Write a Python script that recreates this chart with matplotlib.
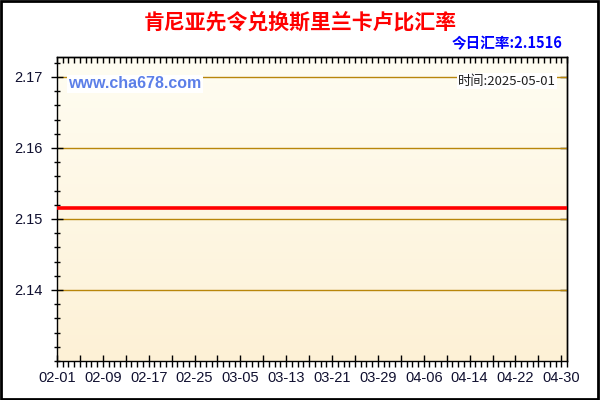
import numpy as np
import pandas as pd
import matplotlib
matplotlib.use("Agg")
import matplotlib.pyplot as plt
from matplotlib.patches import Rectangle

plt.rcParams['font.family'] = ['Liberation Sans', 'Noto Sans CJK SC', 'DejaVu Sans']

# ── data ────────────────────────────────────────────────────────────────
dates = pd.date_range('2025-02-01', '2025-05-01', freq='D')
rates = [2.1516] * len(dates)
today_rate = 2.1516
stamp = '2025-05-01'
y_ticks = [2.14, 2.15, 2.16, 2.17]

title_txt = '肯尼亚先令兑换斯里兰卡卢比汇率'
site_txt = 'www.cha678.com'

GRID = '#B8860B'
CJK = ['Noto Sans CJK SC', 'DejaVu Sans']

fig = plt.figure(figsize=(6, 4), dpi=100, facecolor='white')
ax = fig.add_axes([57 / 600, 1 - 361 / 400, 510 / 600, 304 / 400])

x = np.arange(len(dates))
xmax = len(dates) - 1
ymin, ymax = 2.13, 2.1728
ax.set_xlim(0, xmax)
ax.set_ylim(ymin, ymax)

# background gradient (light cream at top, warmer at bottom)
grad = np.linspace(0, 1, 256).reshape(-1, 1)
top_c = np.array([255, 253, 242]) / 255
bot_c = np.array([253, 241, 214]) / 255
img = top_c + (bot_c - top_c) * grad
ax.imshow(img[:, None, :].repeat(2, axis=1), extent=[0, xmax, ymin, ymax],
          aspect='auto', origin='upper', zorder=0)

for yv in y_ticks:
    ax.axhline(yv, color=GRID, lw=1.0, zorder=1)

ax.plot(x, rates, color='#FF0000', lw=2.6, zorder=3, solid_capstyle='butt')

# ticks: left crosses the spine, bottom hangs below, top / right point inward
ax.set_yticks(y_ticks)
ax.set_yticklabels([f'{v:.2f}' for v in y_ticks])
ax.set_yticks(np.arange(ymin, ymax, 0.002), minor=True)
maj = x[::4]
ax.set_xticks(maj)
ax.set_xticklabels([dates[i].strftime('%m-%d') if i % 8 == 0 else '' for i in maj])
ax.set_xticks(x, minor=True)

ax.tick_params(axis='y', which='major', direction='inout', length=9, width=1,
               labelsize=10.5, pad=6, labelcolor='#101030')
ax.tick_params(axis='y', which='minor', direction='inout', length=5, width=1)
ax.tick_params(axis='x', which='major', direction='inout', length=9, width=1,
               labelsize=10.5, pad=3, labelcolor='#101030')
ax.tick_params(axis='x', which='minor', direction='out', length=4, width=1)

top = ax.secondary_xaxis('top')
top.set_xticks(x)
top.tick_params(direction='in', length=4, width=1, labeltop=False)
right = ax.secondary_yaxis('right')
right.set_yticks(y_ticks)
right.tick_params(direction='in', length=5, width=1, labelright=False)

for a in (ax, top, right):
    for s in a.spines.values():
        s.set_linewidth(1.0)
        s.set_color('black')

# texts
fig.text(0.5, 1 - 22 / 400, title_txt, ha='center', va='center', color='#FF0000',
         fontsize=15, fontweight='bold', family=CJK)
fig.text(563 / 600, 1 - 43 / 400, f'今日汇率:{today_rate:.4f}', ha='right', va='center',
         color='#0000FF', fontsize=10.5, fontweight='bold', family=CJK)
ax.text((68 - 57) / 510, 1 - (84 - 57) / 304, site_txt, transform=ax.transAxes,
        ha='left', va='center', color='#5C7FE8', fontsize=11.5, fontweight='bold',
        family=['Liberation Sans', 'DejaVu Sans'],
        bbox=dict(facecolor='white', edgecolor='none', pad=1.0), zorder=5)
ax.text((556 - 57) / 510, 1 - (81 - 57) / 304, f'时间:{stamp}', transform=ax.transAxes,
        ha='right', va='center', color='#202020', fontsize=9.5,
        family=CJK, bbox=dict(facecolor='white', edgecolor='none', pad=1.0), zorder=5)

fig.patches.append(Rectangle((0.002, 0.003), 0.995, 0.994, transform=fig.transFigure,
                             fill=False, edgecolor='black', lw=2))

fig.savefig('out.png', dpi=100, facecolor='white')
